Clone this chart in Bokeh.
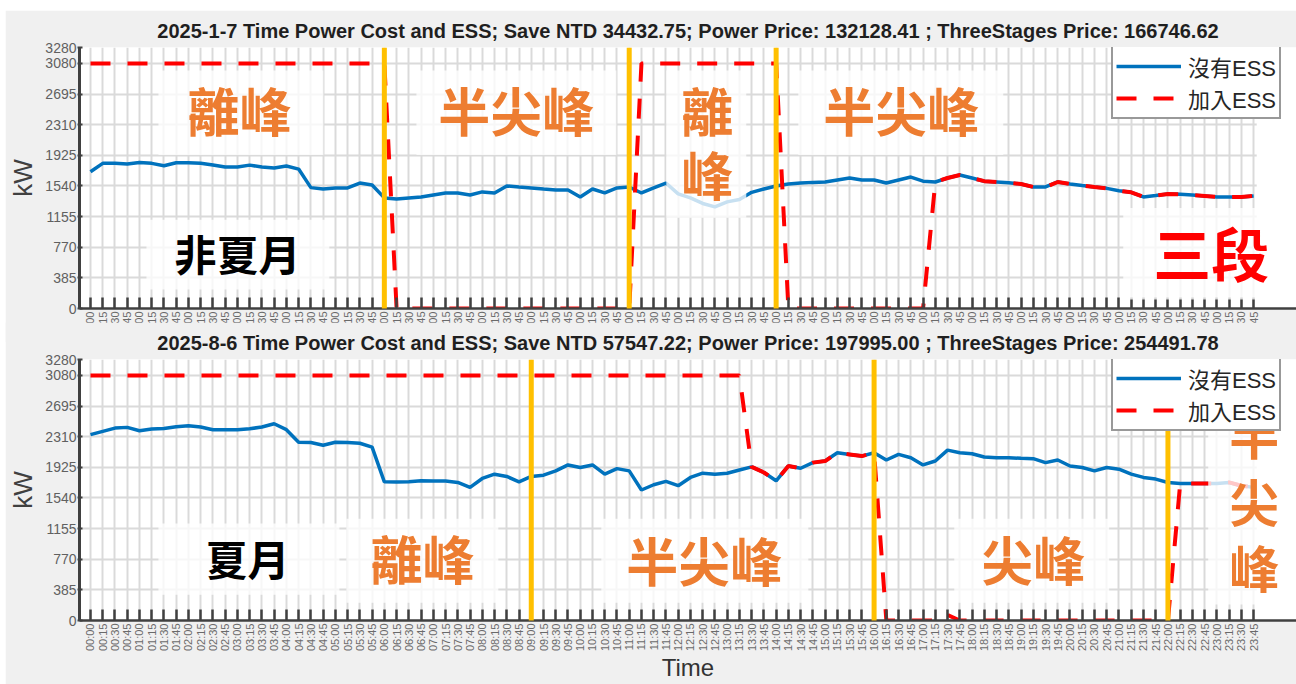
import numpy as np
from bokeh.plotting import figure
from bokeh.models import (FixedTicker, Legend, LegendItem, BoxAnnotation, Label,
                          Arrow, Range1d)
from bokeh.layouts import column
from bokeh.embed import file_html
from bokeh.resources import INLINE

# ---------------- data ----------------
times = [f"{h:02d}:{m:02d}" for h in range(24) for m in (0, 15, 30, 45)]
y_ticks = [0, 385, 770, 1155, 1540, 1925, 2310, 2695, 3080, 3280]

winter_title = ("2025-1-7 Time Power Cost and ESS; Save NTD 34432.75; "
                "Power Price: 132128.41 ; ThreeStages Price: 166746.62")
summer_title = ("2025-8-6 Time Power Cost and ESS; Save NTD 57547.22; "
                "Power Price: 197995.00 ; ThreeStages Price: 254491.78")

winter_no_ess = [1719, 1824, 1824, 1815, 1836, 1824, 1794, 1832, 1832, 1824,
                 1803, 1777, 1777, 1802, 1777, 1765, 1790, 1752, 1519, 1502,
                 1515, 1515, 1577, 1552, 1390, 1377, 1390, 1402, 1427, 1452,
                 1452, 1427, 1465, 1452, 1540, 1527, 1515, 1502, 1490, 1490,
                 1402, 1502, 1452, 1515, 1527, 1452, 1515, 1577, 1440, 1390,
                 1320, 1277, 1340, 1370, 1460, 1502, 1540, 1565, 1577, 1585,
                 1590, 1615, 1640, 1615, 1615, 1577, 1615, 1652, 1600, 1590,
                 1640, 1677, 1640, 1600, 1590, 1580, 1565, 1527, 1527, 1590,
                 1565, 1545, 1527, 1510, 1480, 1460, 1402, 1420, 1440, 1435,
                 1427, 1415, 1402, 1402, 1402, 1415]
winter_with_ess = [3080, 3080, 3080, 3080, 3080, 3080, 3080, 3080, 3080, 3080,
                   3080, 3080, 3080, 3080, 3080, 3080, 3080, 3080, 3080, 3080,
                   3080, 3080, 3080, 3080, 3080, 0, 0, 0, 0, 0,
                   0, 0, 0, 0, 0, 0, 0, 0, 0, 0,
                   0, 0, 0, 0, 0, 3080, 3080, 3080, 3080, 3080,
                   3080, 3080, 3080, 3080, 3080, 3080, 3080, 0, 0, 0,
                   0, 0, 0, 0, 0, 0, 0, 0, 0, 1590,
                   1640, 1677, 1640, 1600, 1590, 1580, 1565, 1527, 1527, 1590,
                   1565, 1545, 1527, 1510, 1480, 1460, 1402, 1420, 1440, 1435,
                   1427, 1415, 1402, 1402, 1402, 1415]

summer_no_ess = [2336, 2377, 2418, 2427, 2385, 2406, 2414, 2435, 2447, 2431,
                 2398, 2398, 2398, 2410, 2431, 2472, 2398, 2240, 2236, 2203,
                 2240, 2236, 2228, 2178, 1743, 1740, 1743, 1756, 1752, 1752,
                 1735, 1673, 1785, 1839, 1810, 1743, 1810, 1826, 1880, 1955,
                 1922, 1955, 1839, 1909, 1880, 1640, 1706, 1748, 1694, 1798,
                 1851, 1839, 1851, 1892, 1930, 1860, 1756, 1942, 1913, 1984,
                 2004, 2108, 2087, 2066, 2108, 2017, 2087, 2046, 1955, 2004,
                 2141, 2108, 2096, 2054, 2046, 2046, 2038, 2034, 1984, 2017,
                 1942, 1922, 1880, 1922, 1901, 1839, 1798, 1777, 1735, 1723,
                 1723, 1723, 1723, 1735, 1694, 1673]
summer_with_ess = [3080, 3080, 3080, 3080, 3080, 3080, 3080, 3080, 3080, 3080,
                   3080, 3080, 3080, 3080, 3080, 3080, 3080, 3080, 3080, 3080,
                   3080, 3080, 3080, 3080, 3080, 3080, 3080, 3080, 3080, 3080,
                   3080, 3080, 3080, 3080, 3080, 3080, 3080, 3080, 3080, 3080,
                   3080, 3080, 3080, 3080, 3080, 3080, 3080, 3080, 3080, 3080,
                   3080, 3080, 3080, 3080, 1930, 1860, 1756, 1942, 1913, 1984,
                   2004, 2108, 2087, 2066, 2108, 0, 0, 0, 0, 0,
                   70, 0, 0, 0, 0, 0, 0, 0, 0, 0,
                   0, 0, 0, 0, 0, 0, 0, 0, 0, 1723,
                   1723, 1723, 1723, 1735, 1694, 1673]

series_names = ["沒有ESS", "加入ESS"]
winter_boundaries = ["06:00", "11:00", "14:00"]
summer_boundaries = ["09:00", "16:00", "22:00"]

# overlay notes: (text, x in time-index units, y in kW, colour, font px)
ORANGE = "#ED7D31"
winter_notes = [("離峰", 12.17, 2500, ORANGE, 52), ("半尖峰", 34.78, 2500, ORANGE, 52),
                ("離", 50.38, 2500, ORANGE, 52), ("峰", 50.38, 1700, ORANGE, 52),
                ("半尖峰", 66.22, 2500, ORANGE, 52), ("非夏月", 12.0, 700, "#000000", 42),
                ("三段", 91.53, 715, "#FF0000", 58)]
winter_boxes = [(5.55, 19.02, 2992, 1928), (26.62, 42.95, 2992, 1928),
                (47.03, 53.56, 2992, 1139), (57.81, 74.55, 2992, 1928),
                (4.57, 19.51, 1114, 238), (84.35, 99.5, 1264, 113)]
summer_notes = [("夏月", 12.82, 790, "#000000", 42), ("離峰", 27.11, 790, ORANGE, 52),
                ("半尖峰", 50.13, 765, ORANGE, 52), ("尖峰", 77.0, 775, ORANGE, 52),
                ("半", 95.04, 2355, ORANGE, 50), ("尖", 95.04, 1520, ORANGE, 50),
                ("峰", 95.04, 690, ORANGE, 50)]
summer_boxes = [(5.55, 20.33, 1218, 323), (20.9, 33.31, 1280, 224),
                (41.72, 58.63, 1280, 224), (70.55, 83.2, 1280, 224),
                (91.29, 99.5, 2771, 200)]

CJK = "Noto Sans CJK TC"
SANS = "Liberation Sans"


def make_chart(title, load, ess, boundaries, notes, boxes, height, mb_top,
               mb_bottom, xlabel, line_end):
    x = list(range(len(times)))
    p = figure(width=1291, height=height, x_range=Range1d(-0.898, 98.5),
               y_range=Range1d(0, 3280), output_backend="svg",
               toolbar_location=None, min_border_left=73, min_border_right=0,
               min_border_top=mb_top, min_border_bottom=mb_bottom,
               background_fill_color="white", border_fill_color="#f0f0f0",
               outline_line_color=None)
    p.title.text = title
    p.title.align = "center"
    p.title.text_font = SANS
    p.title.text_font_size = "20px"
    p.title.text_font_style = "bold"
    p.title.text_color = "#1f1f1f"
    p.title.standoff = 11

    p.xaxis.ticker = FixedTicker(ticks=x)
    p.xaxis.major_label_overrides = {i: t for i, t in enumerate(times)}
    p.xaxis.major_label_orientation = np.pi / 2
    p.xaxis.major_tick_in = 11
    p.xaxis.major_tick_out = 0
    p.xaxis.major_tick_line_width = 2.5
    p.xaxis.major_tick_line_color = "#404040"
    p.xaxis.minor_tick_line_color = None
    p.xaxis.axis_line_width = 2.5
    p.xaxis.axis_line_color = "#404040"
    p.xaxis.major_label_text_font = SANS
    p.xaxis.major_label_text_font_size = "11px"
    p.xaxis.major_label_text_color = "#6a6a6a"
    p.xaxis.major_label_standoff = 3
    if xlabel:
        p.xaxis.axis_label = xlabel
        p.xaxis.axis_label_text_font = SANS
        p.xaxis.axis_label_text_font_size = "24px"
        p.xaxis.axis_label_text_font_style = "normal"
        p.xaxis.axis_label_text_color = "#333333"
        p.xaxis.axis_label_standoff = 0

    p.yaxis.ticker = FixedTicker(ticks=y_ticks)
    p.yaxis.major_label_text_font = SANS
    p.yaxis.major_label_text_font_size = "14px"
    p.yaxis.major_label_text_color = "#606060"
    p.yaxis.major_label_standoff = 1
    p.yaxis.major_tick_in = 3
    p.yaxis.major_tick_out = 2
    p.yaxis.major_tick_line_width = 2
    p.yaxis.major_tick_line_color = "#404040"
    p.yaxis.minor_tick_line_color = None
    p.yaxis.axis_line_width = 3
    p.yaxis.axis_line_color = "#404040"
    p.yaxis.axis_label = "kW"
    p.yaxis.axis_label_text_font = SANS
    p.yaxis.axis_label_text_font_size = "26px"
    p.yaxis.axis_label_text_font_style = "normal"
    p.yaxis.axis_label_text_color = "#404040"
    p.yaxis.axis_label_standoff = 4

    p.grid.grid_line_color = "#dadada"
    p.grid.grid_line_width = 2

    # plain white area to the right of the last tick (no grid there)
    p.add_layout(BoxAnnotation(left=x[-1] + 0.25, fill_color="white",
                               fill_alpha=1, line_color=None, level="underlay"))

    r1 = p.line(x, load, line_color="#0072BD", line_width=3.5)
    r2 = p.line(x, ess, line_color="#FF0000", line_width=4, line_dash="20 17")

    legend = Legend(items=[LegendItem(label=series_names[0], renderers=[r1]),
                           LegendItem(label=series_names[1], renderers=[r2])],
                    location=(1032, 189), orientation="vertical",
                    label_text_font="Liberation Sans, Noto Sans CJK TC",
                    label_text_font_size="22px",
                    label_text_color="#262626", glyph_width=65, glyph_height=20,
                    label_standoff=7, padding=3, spacing=-6, margin=0,
                    border_line_color="#333333", border_line_width=2,
                    background_fill_color="white", background_fill_alpha=1)
    p.add_layout(legend, "center")

    for (l, r, t, b) in boxes:
        p.add_layout(BoxAnnotation(left=l, right=r, top=t, bottom=b,
                                   fill_color="white", fill_alpha=0.78,
                                   line_color=None, level="overlay"))
    for b in boundaries:
        xi = times.index(b)
        p.add_layout(Arrow(x_start=xi, y_start=3280, x_end=xi, y_end=line_end,
                           start=None, end=None, line_color="#FFC000",
                           line_width=5, level="overlay"))
    for (txt, xx, yy, col, fs) in notes:
        p.add_layout(Label(x=xx, y=yy, text=txt, text_align="center",
                           text_baseline="middle", text_font=CJK,
                           text_font_size=f"{fs}px", text_font_style="bold",
                           text_color=col, level="overlay"))
    return p


top = make_chart(winter_title, winter_no_ess, winter_with_ess, winter_boundaries,
                 winter_notes, winter_boxes, 332, 37, 33, None, -170)
bottom = make_chart(summer_title, summer_no_ess, summer_with_ess, summer_boundaries,
                    summer_notes, summer_boxes, 362, 37, 61, "Time", -335)
bottom.margin = (-20, 0, 0, 0)

layout = column(top, bottom, spacing=0, margin=(10, 0, 0, 5))
open("out.html", "w").write(file_html(layout, INLINE))
